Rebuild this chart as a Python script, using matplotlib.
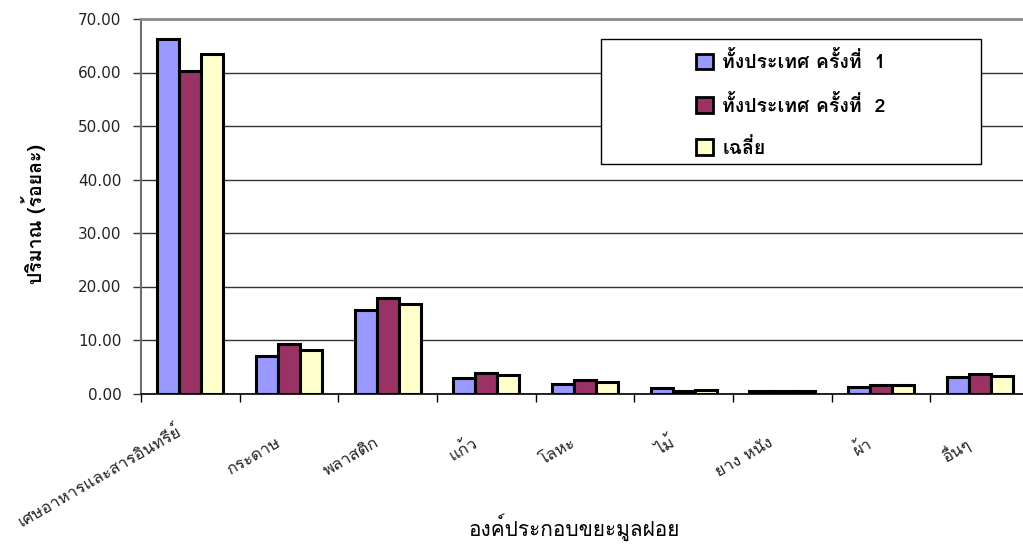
import numpy as np
import matplotlib
matplotlib.use("Agg")
import matplotlib.pyplot as plt
from matplotlib import font_manager
from matplotlib.patches import Patch, Rectangle
from matplotlib.transforms import ScaledTranslation
from fontTools.ttLib import TTFont

# waste composition (percent)
categories = ["เศษอาหารและสารอินทรีย์", "กระดาษ", "พลาสติก", "แก้ว", "โลหะ",
              "ไม้", "ยาง หนัง", "ผ้า", "อื่นๆ"]
survey1 = [66.3, 7.1, 15.7, 2.9, 1.8, 1.0, 0.5, 1.3, 3.1]
survey2 = [60.3, 9.2, 17.9, 3.9, 2.5, 0.5, 0.5, 1.5, 3.6]
average = [63.5, 8.1, 16.8, 3.5, 2.1, 0.7, 0.5, 1.5, 3.3]
series_names = ["ทั้งประเทศ ครั้งที่  1", "ทั้งประเทศ ครั้งที่  2", "เฉลี่ย"]
yticks = [0, 10, 20, 30, 40, 50, 60, 70]


def find_thai_font():
    # first installed font that has Thai glyphs
    for f in font_manager.fontManager.ttflist:
        try:
            cmap = TTFont(f.fname, fontNumber=0, lazy=True).getBestCmap()
        except Exception:
            continue
        if cmap and 0x0E01 in cmap:
            return f.name
    return None


thai = find_thai_font()
families = ([thai] if thai else []) + ["DejaVu Sans"]
plt.rcParams["font.family"] = families

fig = plt.figure(figsize=(10.23, 5.45), dpi=100)
W, H = 1023, 545
x0, x1, ytop, ybot = 141, 1029, 19, 393.5
ax = fig.add_axes([x0 / W, (H - ybot) / H, (x1 - x0) / W, (ybot - ytop) / H])

x = np.arange(len(categories))
bw = 1 / 4.5
colors = ["#9999FF", "#993366", "#FFFFCC"]
for i, (vals, c) in enumerate(zip([survey1, survey2, average], colors)):
    ax.bar(x + (i - 1) * bw, vals, bw, color=c, edgecolor="black",
           linewidth=2.2, zorder=3)

ax.set_xlim(-0.5, len(categories) - 0.5)
ax.set_ylim(0, 70)
ax.set_yticks(yticks)
ax.set_yticklabels([f"{v:.2f}" for v in yticks], family="DejaVu Sans",
                   fontsize=11, color="#222222")
ax.yaxis.grid(True, color="#333333", linewidth=1)
ax.set_axisbelow(True)

ax.spines["right"].set_visible(False)
ax.spines["top"].set_color("#8c8c8c")
ax.spines["top"].set_linewidth(2)
ax.spines["left"].set_color("#6e6e6e")
ax.spines["left"].set_linewidth(1.5)
ax.spines["bottom"].set_color("black")
ax.spines["bottom"].set_linewidth(1.2)

ax.tick_params(axis="y", length=6, width=1, pad=8, color="#333333")

# ticks between categories, labels at centres
ax.set_xticks(np.arange(-0.5, len(categories) + 0.5, 1))
ax.set_xticklabels([])
ax.tick_params(axis="x", which="major", length=6, width=1, color="black")
ax.set_xticks(x, minor=True)
ax.set_xticklabels(categories, minor=True, rotation=30, ha="right",
                   va="center", rotation_mode="anchor", fontsize=12,
                   color="#222222")
ax.tick_params(axis="x", which="minor", length=0, pad=35)
for k, lbl in enumerate(ax.get_xticklabels(minor=True)):
    dy = 12 / 100 if k == 0 else 0
    shift = ScaledTranslation(-10 / 100, dy, fig.dpi_scale_trans)
    lbl.set_transform(lbl.get_transform() + shift)

fig.text(33 / W, 1 - 214 / H, "ปริมาณ (ร้อยละ)", rotation=90, ha="center",
         va="center", fontsize=14, fontweight="bold")
fig.text(574 / W, 1 - 527 / H, "องค์ประกอบขยะมูลฝอย", ha="center",
         va="center", fontsize=15)

# legend box
lx0, lx1, ly0, ly1 = 601, 981, 39, 164
fig.patches.append(Rectangle((lx0 / W, 1 - ly1 / H), (lx1 - lx0) / W,
                             (ly1 - ly0) / H, transform=fig.transFigure,
                             facecolor="white", edgecolor="black",
                             linewidth=1, zorder=5))
handles = [Patch(facecolor=c, edgecolor="black", linewidth=2) for c in colors]
leg = fig.legend(handles, series_names, loc="center",
                 bbox_to_anchor=((lx0 + lx1) / 2 / W,
                                 1 - ((ly0 + ly1) / 2 + 3) / H),
                 frameon=False, labelspacing=1.15,
                 handlelength=0.85, handleheight=0.85, handletextpad=0.5,
                 prop={"weight": "bold", "size": 14})
leg.set_zorder(6)

fig.savefig("out.png", dpi=100)
